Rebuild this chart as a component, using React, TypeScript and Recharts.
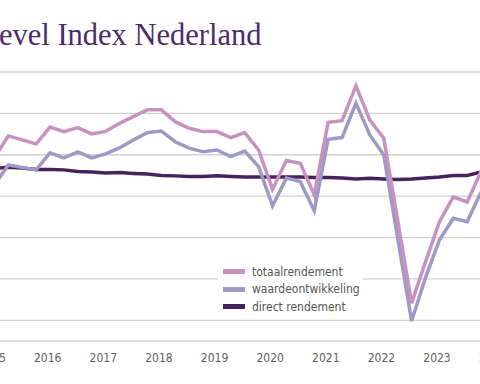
import React from 'react';
import { LineChart, Line, XAxis, YAxis, CartesianGrid, Legend } from 'recharts';

// kwartalen, 2015-K3 t/m 2024-K2
const quarters = [
  '2015-K3', '2015-K4',
  '2016-K1', '2016-K2', '2016-K3', '2016-K4',
  '2017-K1', '2017-K2', '2017-K3', '2017-K4',
  '2018-K1', '2018-K2', '2018-K3', '2018-K4',
  '2019-K1', '2019-K2', '2019-K3', '2019-K4',
  '2020-K1', '2020-K2', '2020-K3', '2020-K4',
  '2021-K1', '2021-K2', '2021-K3', '2021-K4',
  '2022-K1', '2022-K2', '2022-K3', '2022-K4',
  '2023-K1', '2023-K2', '2023-K3', '2023-K4',
  '2024-K1', '2024-K2',
];

const totaalrendement = [
  1.85, 2.91, 2.72, 2.52, 3.34, 3.12, 3.31, 3.01, 3.13, 3.52, 3.85, 4.17,
  4.17, 3.6, 3.28, 3.12, 3.12, 2.83, 3.07, 2.23, 0.33, 1.72, 1.59, 0.06,
  3.57, 3.65, 5.33, 3.68, 2.8, -1.15, -5.17, -3.18, -1.25, -0.04, -0.28, 1.2,
];

const waardeontwikkeling = [
  0.54, 1.51, 1.39, 1.27, 2.09, 1.85, 2.14, 1.85, 2.04, 2.33, 2.72, 3.07,
  3.15, 2.63, 2.32, 2.15, 2.23, 1.91, 2.18, 1.43, -0.47, 0.87, 0.7, -0.7,
  2.75, 2.83, 4.49, 2.96, 1.99, -2.02, -6.03, -3.95, -2.12, -1.07, -1.23, 0.2,
];

const directRendement = [
  1.34, 1.4, 1.36, 1.29, 1.29, 1.27, 1.19, 1.17, 1.12, 1.14, 1.1, 1.07,
  1.0, 0.98, 0.95, 0.95, 0.98, 0.95, 0.93, 0.93, 0.93, 0.93, 0.93, 0.9,
  0.9, 0.88, 0.83, 0.86, 0.83, 0.81, 0.83, 0.88, 0.93, 1.0, 1.0, 1.17,
];

const years = [2015, 2016, 2017, 2018, 2019, 2020, 2021, 2022, 2023, 2024];
const yTicks = [-7, -6, -5, -4, -3, -2, -1, 0, 1, 2, 3, 4, 5, 6];

const COLORS = {
  totaal: '#c792bf',
  waarde: '#9d9ac6',
  direct: '#47225f',
};

// index -1 = 2015-K3; jaarlabel staat iets na het midden van het jaar
const chartData = quarters.map((q, i) => ({
  kwartaal: q,
  idx: i - 1,
  totaal: totaalrendement[i],
  waarde: waardeontwikkeling[i],
  direct: directRendement[i],
}));

const yearTicks = years.map((y) => (y - 2016) * 4 + 2.83);

const legendItems = [
  { label: 'totaalrendement', color: COLORS.totaal },
  { label: 'waardeontwikkeling', color: COLORS.waarde },
  { label: 'direct rendement', color: COLORS.direct },
];

const FONT = '"DejaVu Sans Condensed", "Liberation Sans", sans-serif';

const CustomLegend = () => (
  <div
    style={{
      background: '#fff',
      width: 145,
      fontFamily: FONT,
      fontSize: 12,
      color: '#555',
      whiteSpace: 'nowrap',
    }}
  >
    {legendItems.map((item) => (
      <div key={item.label} style={{ display: 'flex', alignItems: 'center', height: 17.5 }}>
        <div style={{ width: 22, height: 5, marginLeft: 5, marginRight: 7, background: item.color }} />
        <span>{item.label}</span>
      </div>
    ))}
  </div>
);

export default function App() {
  return (
    <div
      style={{
        position: 'fixed',
        left: 0,
        top: 0,
        width: 480,
        height: 384,
        overflow: 'hidden',
        background: '#fff',
      }}
    >
      <svg width={480} height={60} style={{ position: 'absolute', left: 0, top: 0 }}>
        <text x={-1} y={45} fontFamily='"Liberation Serif", serif' fontSize={30.5} fill="#4a2d6b">
          evel Index Nederland
        </text>
      </svg>
      <div style={{ position: 'absolute', left: -40, top: 0 }}>
        <LineChart
          width={580}
          height={384}
          data={chartData}
          margin={{ top: 72, right: 45, bottom: 13, left: 20.5 }}
        >
          <CartesianGrid vertical={false} stroke="#d2d2d2" strokeWidth={1.3} />
          <XAxis
            dataKey="idx"
            type="number"
            domain={[-2, 35]}
            ticks={yearTicks}
            interval={0}
            tickFormatter={(v: number) => String(Math.round((v - 2.83) / 4) + 2016)}
            axisLine={false}
            tickLine={false}
            tickSize={6}
            tickMargin={6}
            height={30}
            tick={{ fill: '#5f5f5f', fontSize: 12, fontFamily: FONT }}
          />
          <YAxis hide domain={[-7, 6]} ticks={yTicks} />
          <Line
            dataKey="direct"
            name="direct rendement"
            stroke={COLORS.direct}
            strokeWidth={3.5}
            dot={false}
            isAnimationActive={false}
          />
          <Line
            dataKey="waarde"
            name="waardeontwikkeling"
            stroke={COLORS.waarde}
            strokeWidth={3.5}
            dot={false}
            isAnimationActive={false}
          />
          <Line
            dataKey="totaal"
            name="totaalrendement"
            stroke={COLORS.totaal}
            strokeWidth={3.5}
            dot={false}
            isAnimationActive={false}
          />
          <Legend
            layout="vertical"
            align="center"
            verticalAlign="middle"
            content={<CustomLegend />}
            wrapperStyle={{ position: 'absolute', left: 258, top: 263, width: 145 }}
          />
        </LineChart>
      </div>
    </div>
  );
}
